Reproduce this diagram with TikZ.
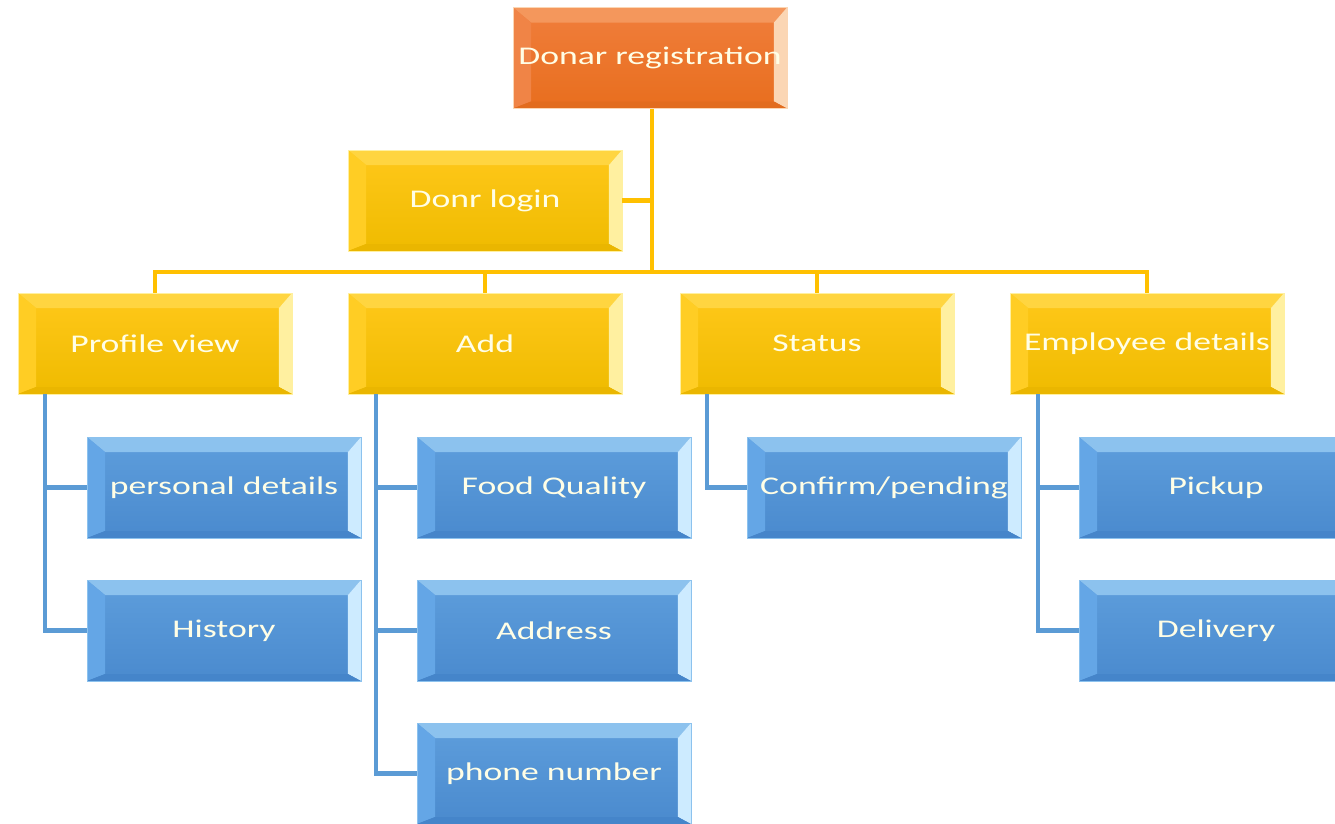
\documentclass[tikz,border=0pt]{standalone}
\usepackage{fontspec}
\usepackage{xcolor}
\usepackage{tikz}
\usetikzlibrary{calc}
\newfontfamily\boxfont[FakeStretch=1.4]{Carlito}
\definecolor{OrTopC}{HTML}{F07E3C}
\definecolor{OrBotC}{HTML}{E86E1E}
\definecolor{OrBevT}{HTML}{F4975C}
\definecolor{OrBevL}{HTML}{F08446}
\definecolor{OrBevR}{HTML}{FBD6B4}
\definecolor{OrBevB}{HTML}{E26C1E}
\definecolor{YlTopC}{HTML}{FFC81A}
\definecolor{YlBotC}{HTML}{EFBB00}
\definecolor{YlBevT}{HTML}{FFD540}
\definecolor{YlBevL}{HTML}{FFCD24}
\definecolor{YlBevR}{HTML}{FFF0A0}
\definecolor{YlBevB}{HTML}{EAB600}
\definecolor{BlTopC}{HTML}{5E9EDC}
\definecolor{BlBotC}{HTML}{4A8ACE}
\definecolor{BlBevT}{HTML}{8CC2EE}
\definecolor{BlBevL}{HTML}{64A6E6}
\definecolor{BlBevR}{HTML}{CDEBFF}
\definecolor{BlBevB}{HTML}{4585CA}
\definecolor{YlLine}{HTML}{FFC000}
\definecolor{BlLine}{HTML}{5B9BD5}
% bevelled face: main top, main bottom, top, left, right, bottom
\newcommand\bevelpic[6]{%
  \coordinate (nw) at (path picture bounding box.north west);
  \coordinate (ne) at (path picture bounding box.north east);
  \coordinate (sw) at (path picture bounding box.south west);
  \coordinate (se) at (path picture bounding box.south east);
  \fill[top color=#1,bottom color=#2] (nw) rectangle (se);
  \fill[#3] (nw) -- (ne) -- ($(ne)+(-0.26cm,-0.3cm)$) -- ($(nw)+(0.36cm,-0.3cm)$) -- cycle;
  \fill[#4] (nw) -- ($(nw)+(0.36cm,-0.3cm)$) -- ($(sw)+(0.36cm,0.14cm)$) -- (sw) -- cycle;
  \fill[#5] (ne) -- (se) -- ($(se)+(-0.26cm,0.14cm)$) -- ($(ne)+(-0.26cm,-0.3cm)$) -- cycle;
  \fill[#6] (sw) -- ($(sw)+(0.36cm,0.14cm)$) -- ($(se)+(-0.26cm,0.14cm)$) -- (se) -- cycle;
}
\tikzset{
  box/.style={rectangle, minimum width=5.48cm, minimum height=2.02cm,
    inner sep=0pt, text=white!90!yellow,
    font=\boxfont\fontsize{14.5}{16}\selectfont},
  orangebox/.style={box, draw=OrBevR, line width=0.4pt,
    path picture={\bevelpic{OrTopC}{OrBotC}{OrBevT}{OrBevL}{OrBevR}{OrBevB}}},
  yellowbox/.style={box, draw=YlBevR, line width=0.4pt,
    path picture={\bevelpic{YlTopC}{YlBotC}{YlBevT}{YlBevL}{YlBevR}{YlBevB}}},
  bluebox/.style={box, draw=BlBevT, line width=0.4pt,
    path picture={\bevelpic{BlTopC}{BlBotC}{BlBevT}{BlBevL}{BlBevR}{BlBevB}}},
  ylink/.style={draw=YlLine, line width=2.3pt},
  blink/.style={draw=BlLine, line width=2.6pt},
}

\begin{document}
\begin{tikzpicture}[x=0.02cm, y=-0.02cm]
  \useasboundingbox (0,0) rectangle (1335,823);
  \clip (0,0) rectangle (1335,823);

  % branch points
  \coordinate (bus) at (652,272);
  \coordinate (pvline) at (45,394);
  \coordinate (adline) at (376,394);
  \coordinate (stline) at (707,394);
  \coordinate (emline) at (1038,394);

  \node[orangebox] (root) at (650,58) {Donar registration};
  \node[yellowbox] (login) at (485,200.5) {Donr login};

  \node[yellowbox] (profile) at (155,343.5) {Profile view};
  \node[yellowbox] (add) at (485,343.5) {Add};
  \node[yellowbox] (status) at (817,343.5) {Status};
  \node[yellowbox] (emp) at (1147,343.5) {Employee details};

  \node[bluebox] (pers) at (224,487.5) {personal details};
  \node[bluebox] (hist) at (224,630.5) {History};
  \node[bluebox] (food) at (554,487.5) {Food Quality};
  \node[bluebox] (addr) at (554,630.5) {Address};
  \node[bluebox] (phone) at (554,773.5) {phone number};
  \node[bluebox] (conf) at (884,487.5) {Confirm/pending};
  \node[bluebox] (pick) at (1216,487.5) {Pickup};
  \node[bluebox] (deliv) at (1216,630.5) {Delivery};

  % yellow links
  \draw[ylink] (root.south -| bus) -- (bus);
  \draw[ylink] (login.east) -- (login.east -| bus);
  \draw[ylink] (profile.north) |- (bus) -| (emp.north);
  \draw[ylink] (add.north) -- (add.north |- bus);
  \draw[ylink] (status.north) -- (status.north |- bus);

  % blue links
  \draw[blink] (pvline) |- (pers.west);
  \draw[blink] (pvline) |- (hist.west);
  \draw[blink] (adline) |- (food.west);
  \draw[blink] (adline) |- (addr.west);
  \draw[blink] (adline) |- (phone.west);
  \draw[blink] (stline) |- (conf.west);
  \draw[blink] (emline) |- (pick.west);
  \draw[blink] (emline) |- (deliv.west);
\end{tikzpicture}
\end{document}
